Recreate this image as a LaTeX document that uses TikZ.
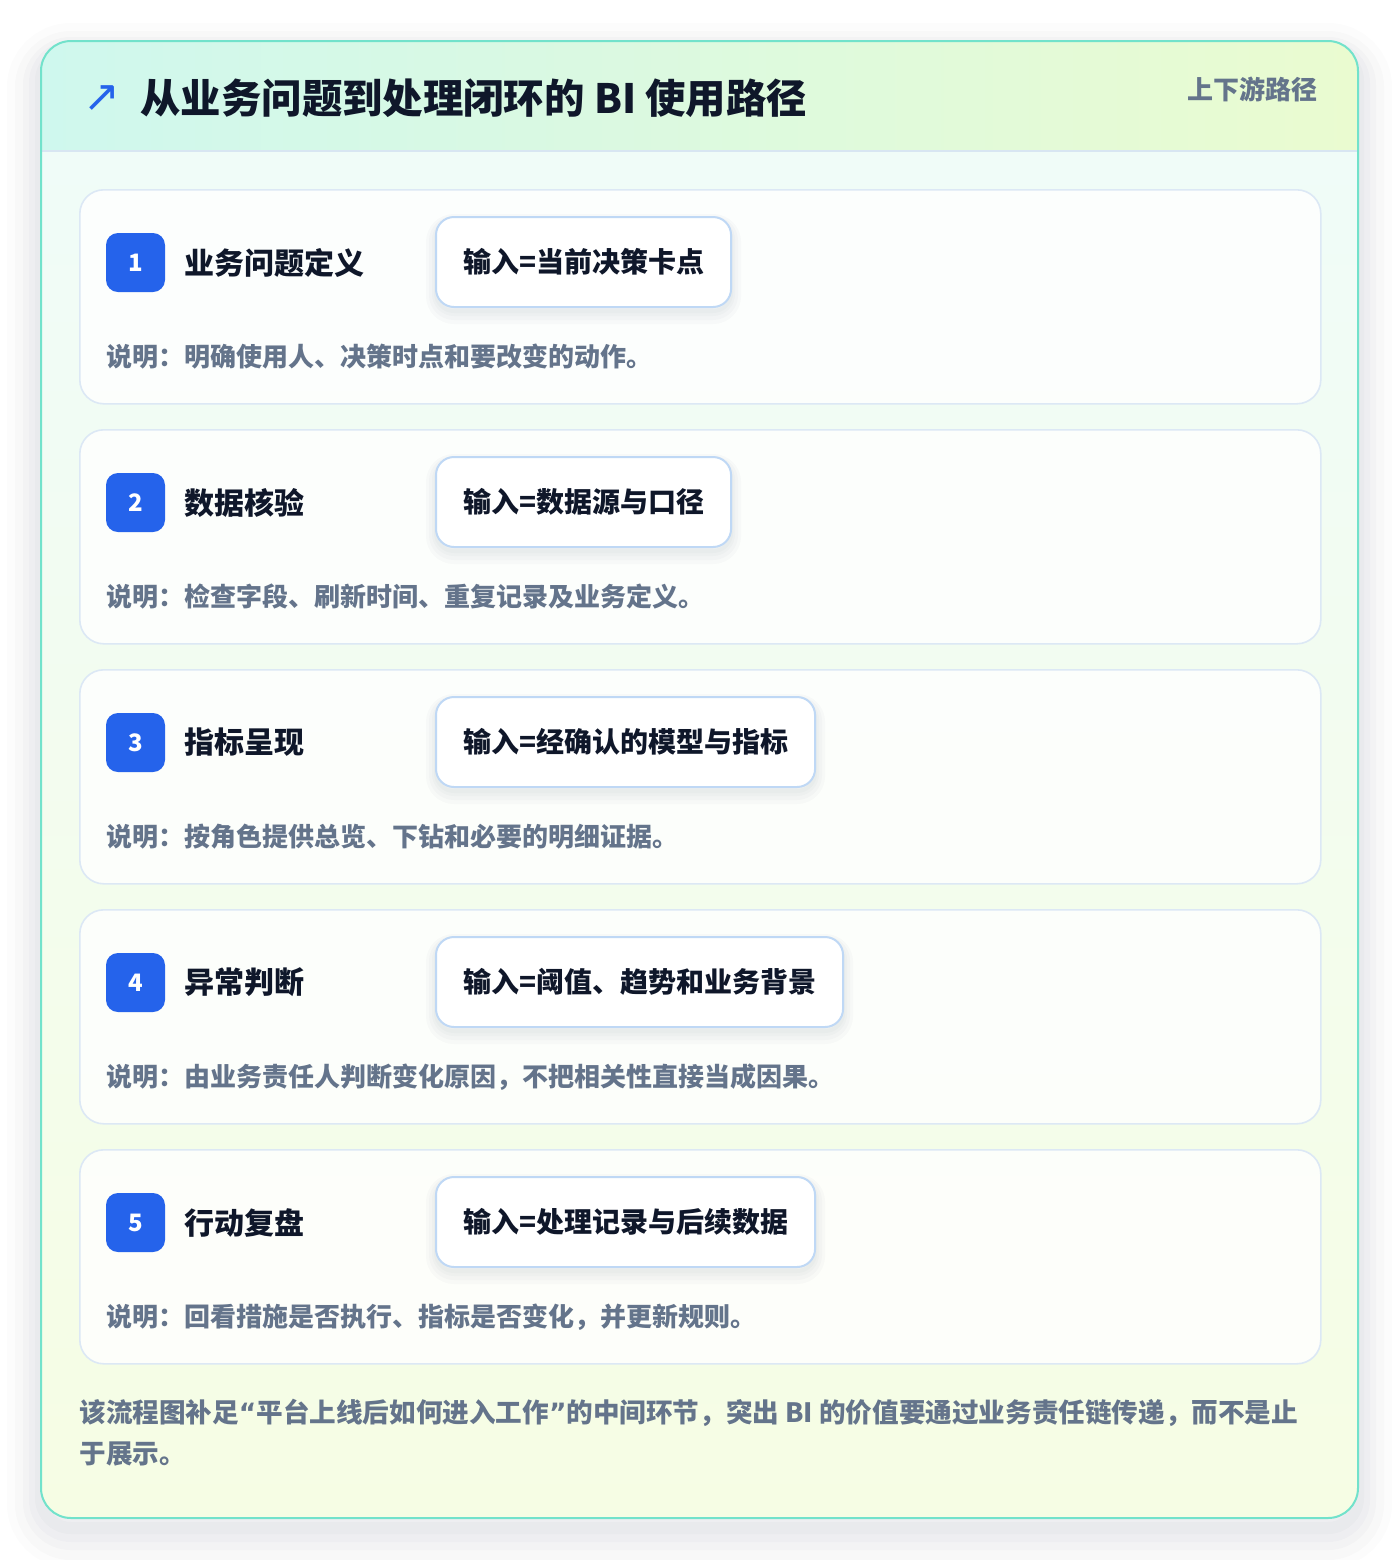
\documentclass[tikz,border=0pt]{standalone}
\usepackage{fontspec}
\setmainfont{Noto Sans CJK SC}
\newfontfamily\symfont{DejaVu Sans}
\usetikzlibrary{positioning}

\definecolor{ink}{HTML}{0F172A}
\definecolor{muted}{HTML}{64748B}
\definecolor{badgeblue}{HTML}{2563EB}
\definecolor{framec}{HTML}{72E2CB}
\definecolor{cardline}{HTML}{DCE8F5}
\definecolor{inline}{HTML}{BFD8F5}
\definecolor{headl}{HTML}{CFF8EE}
\definecolor{headr}{HTML}{EAFBD0}
\definecolor{bodyt}{HTML}{F0FCF8}
\definecolor{bodyb}{HTML}{F6FDE4}
\definecolor{headline}{HTML}{D8E6F2}
\definecolor{shade}{HTML}{1E293B}

\begin{document}
\begin{tikzpicture}[x=0.5pt, y=-0.5pt]
\tikzset{
    halo/.style= {preaction={draw=shade, draw opacity=#1, line width=2pt, transform canvas={yshift=-2pt}},
                  preaction={draw=shade, draw opacity=#1, line width=4pt, transform canvas={yshift=-2.5pt}},
                  preaction={draw=shade, draw opacity=#1, line width=7pt, transform canvas={yshift=-3pt}},
                  preaction={draw=shade, draw opacity=#1, line width=10pt, transform canvas={yshift=-3.5pt}}},
    framehalo/.style= {preaction={draw=shade, draw opacity=0.02, line width=6pt, transform canvas={yshift=-5pt}},
                  preaction={draw=shade, draw opacity=0.02, line width=12pt, transform canvas={yshift=-6pt}},
                  preaction={draw=shade, draw opacity=0.02, line width=18pt, transform canvas={yshift=-7pt}},
                  preaction={draw=shade, draw opacity=0.015, line width=26pt, transform canvas={yshift=-8pt}},
                  preaction={draw=shade, draw opacity=0.01, line width=34pt, transform canvas={yshift=-8pt}}},
    card/.style= {rectangle, rounded corners=12pt, draw=cardline, line width=0.8pt, fill=white, fill opacity=0.8, text opacity=1, minimum width=620.5pt, minimum height=107pt, anchor=north west},
    badge/.style= {rectangle, rounded corners=6pt, fill=badgeblue, text=white, minimum size=29.5pt, inner sep=0pt, font=\bfseries\fontsize{12}{14}\selectfont},
    steptitle/.style= {anchor=west, inner sep=0pt, text=ink, font=\bfseries\fontsize{15}{18}\selectfont},
    inbox/.style= {rectangle, rounded corners=9pt, draw=inline, line width=1pt, fill=white, anchor=west, inner xsep=13.5pt, minimum height=45pt, text=ink, font=\bfseries\fontsize{14}{17}\selectfont, halo=0.018},
    desc/.style= {anchor=west, inner sep=0pt, text=muted, font=\bfseries\fontsize{13}{16}\selectfont},
}

% page and outer frame
\fill[white] (0,0) rectangle (1400,1560);
\useasboundingbox (0,0) rectangle (1400,1560);
\fill[white, rounded corners=15pt, framehalo] (41,41) rectangle (1358,1518);
\begin{scope}
\clip[rounded corners=15pt] (41,41) rectangle (1358,1518);
\shade[top color=bodyt, bottom color=bodyb] (41,151) rectangle (1358,1518);
\shade[left color=headl, right color=headr] (41,41) rectangle (1358,151);
\draw[headline, line width=1pt] (41,151) -- (1358,151);
\end{scope}
\draw[framec, line width=1pt, rounded corners=15pt] (41,41) rectangle (1358,1518);

% header
\node[anchor=center, inner sep=0pt, text=badgeblue, font=\symfont\fontsize{22}{22}\selectfont] (arrow) at (102,99) {↗};
\node[anchor=west, inner sep=0pt, text=ink, font=\bfseries\fontsize{20.2}{24}\selectfont] (title) at (140,98) {从业务问题到处理闭环的 BI 使用路径};
\node[anchor=east, inner sep=0pt, text=muted, font=\bfseries\fontsize{13}{16}\selectfont] (tag) at (1318,89) {上下游路径};

% step 1
\node[card] (c1) at (79,189) {};
\node[badge] (b1) at (135.5,262.5) {1};
\node[steptitle, right=9.5pt of b1] (t1) {业务问题定义};
\node[inbox] (i1) at (435,262) {输入=当前决策卡点};
\node[desc] (d1) at (106,357) {说明：明确使用人、决策时点和要改变的动作。};

% step 2
\node[card] (c2) at (79,429) {};
\node[badge] (b2) at (135.5,502.5) {2};
\node[steptitle, right=9.5pt of b2] (t2) {数据核验};
\node[inbox] (i2) at (435,502) {输入=数据源与口径};
\node[desc] (d2) at (106,597) {说明：检查字段、刷新时间、重复记录及业务定义。};

% step 3
\node[card] (c3) at (79,669) {};
\node[badge] (b3) at (135.5,742.5) {3};
\node[steptitle, right=9.5pt of b3] (t3) {指标呈现};
\node[inbox] (i3) at (435,742) {输入=经确认的模型与指标};
\node[desc] (d3) at (106,837) {说明：按角色提供总览、下钻和必要的明细证据。};

% step 4
\node[card] (c4) at (79,909) {};
\node[badge] (b4) at (135.5,982.5) {4};
\node[steptitle, right=9.5pt of b4] (t4) {异常判断};
\node[inbox] (i4) at (435,982) {输入=阈值、趋势和业务背景};
\node[desc] (d4) at (106,1077) {说明：由业务责任人判断变化原因，不把相关性直接当成因果。};

% step 5
\node[card] (c5) at (79,1149) {};
\node[badge] (b5) at (135.5,1222.5) {5};
\node[steptitle, right=9.5pt of b5] (t5) {行动复盘};
\node[inbox] (i5) at (435,1222) {输入=处理记录与后续数据};
\node[desc] (d5) at (106,1317) {说明：回看措施是否执行、指标是否变化，并更新规则。};

% footer note
\node[anchor=north west, inner sep=0pt, align=left, text=muted, font=\bfseries\fontsize{13.3}{20.5}\selectfont] (note) at (79,1399) {该流程图补足{\symfont “}平台上线后如何进入工作{\symfont ”}的中间环节，突出 BI 的价值要通过业务责任链传递，而不是止\\于展示。};
\end{tikzpicture}
\end{document}
